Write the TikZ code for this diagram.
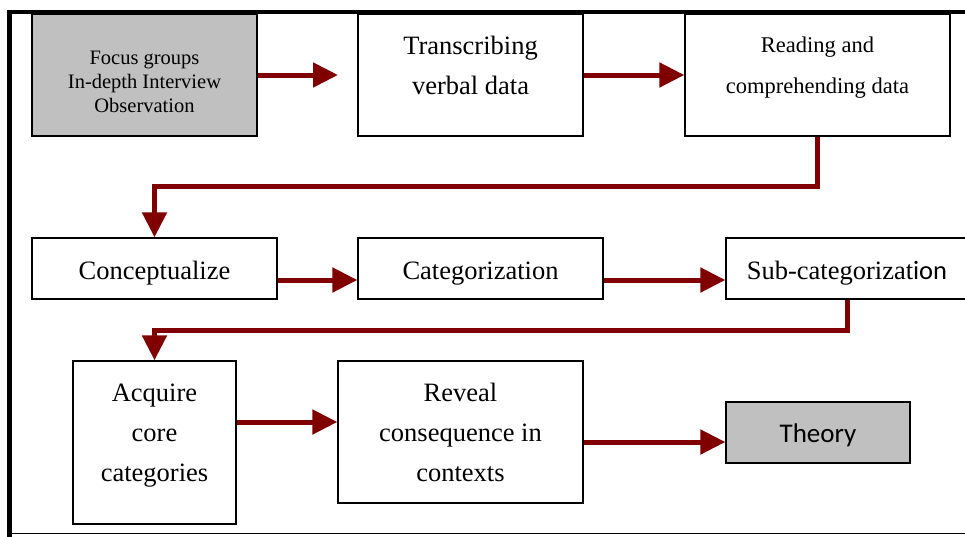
\documentclass[tikz,border=0pt]{standalone}
\usepackage{fontspec}
\setmainfont{Liberation Serif}
\newfontfamily\calfont{Carlito}
\usetikzlibrary{arrows.meta}
\definecolor{arrowred}{HTML}{800000}
\definecolor{boxgrey}{HTML}{C0C0C0}
% extra depth under the last line, lifts the text in its box
\newcommand{\liftby}[1]{\rule[-#1]{0pt}{#1}}
\begin{document}
\begin{tikzpicture}[x=1pt,y=-1pt,
    stepbox/.style={draw=black,line width=1.3pt,fill=white,align=center,inner sep=0pt,
      font=\fontsize{26.5}{40}\selectfont},
    onebox/.style={stepbox,text height=21pt,text depth=0pt},
    greybox/.style={stepbox,fill=boxgrey},
    flow/.style={color=arrowred,line width=5pt,-{Triangle[length=25pt,width=24pt]}}]
      \useasboundingbox (0,0) rectangle (965,536);
      % frame
      \draw[line width=4.5pt] (9.5,538) -- (9.5,12) -- (967,12);
      \draw[line width=1.5pt] (7,533.5) -- (967,533.5);
      \draw
        (144.5,75) node[greybox,minimum width=225pt,minimum height=122pt,
          font=\fontsize{20.5}{24}\selectfont] (focus){\rule{0pt}{28pt}Focus groups\\In-depth Interview\\Observation}
        (470.5,75) node[stepbox,minimum width=225pt,minimum height=122pt] (trans){Transcribing\\verbal data\liftby{20pt}}
        (817.5,75) node[stepbox,minimum width=265pt,minimum height=122pt,
          font=\fontsize{22.5}{41}\selectfont] (read){Reading and\\comprehending data\liftby{19pt}}
        (154.5,268.5) node[onebox,minimum width=245pt,minimum height=61pt] (concept){Conceptualize}
        (480.5,268.5) node[onebox,minimum width=245pt,minimum height=61pt] (categ){Categorization}
        (847,268.5) node[onebox,minimum width=242pt,minimum height=61pt] (sub){Sub-categorizat{\calfont ion}}
        (154.5,442.5) node[stepbox,minimum width=163pt,minimum height=163pt] (acquire){Acquire\\core\\categories\liftby{19pt}}
        (460.5,432) node[stepbox,minimum width=245pt,minimum height=142pt] (reveal){Reveal\\consequence in\\contexts}
        (818,432.5) node[greybox,minimum width=184pt,minimum height=61pt,text height=20pt,text depth=0pt,
          font=\calfont\fontsize{27}{32}\selectfont] (theory){Theory};
      \coordinate (trans-in) at (338,75);
      \begin{scope}[flow]
        \draw (focus.east) -- (trans-in);
        \draw (trans.east) -- (read.west);
        \draw (read.south) -- ++(0,50) -| (concept.north);
        \draw ([yshift=-11.5pt]concept.east) -- ([yshift=-11.5pt]categ.west);
        \draw ([yshift=-11.5pt]categ.east) -- ([yshift=-11.5pt]sub.west);
        \draw (sub.south) -- ++(0,30.5) -| (acquire.north);
        \draw ([yshift=20.5pt]acquire.east) -- ([yshift=10pt]reveal.west);
        \draw ([yshift=-10pt]reveal.east) coordinate (reveal-out) -- (theory.west |- reveal-out);
      \end{scope}
    \end{tikzpicture}
\end{document}
